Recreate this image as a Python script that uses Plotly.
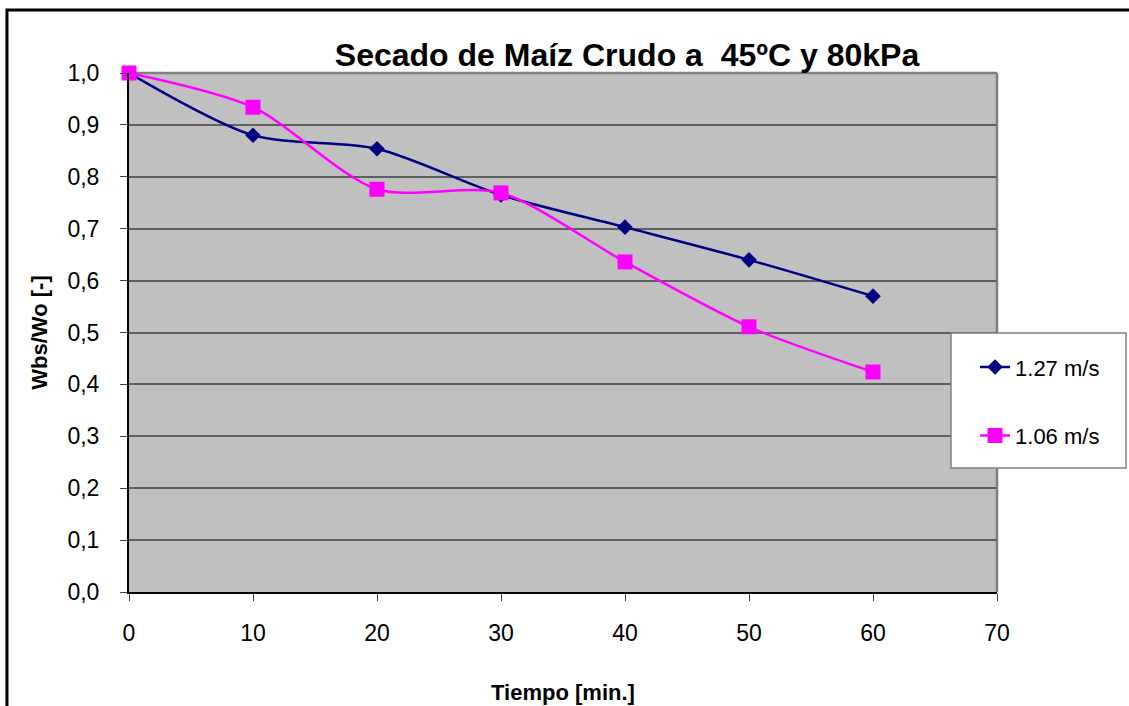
import plotly.graph_objects as go

tiempo = [0, 10, 20, 30, 40, 50, 60]
serie_127 = [1.0, 0.880, 0.854, 0.765, 0.703, 0.640, 0.570]
serie_106 = [1.0, 0.934, 0.776, 0.769, 0.636, 0.511, 0.424]
nombres = ["1.27 m/s", "1.06 m/s"]
titulo = "Secado de Maíz Crudo a  45ºC y 80kPa"
x_titulo = "Tiempo [min.]"
y_titulo = "Wbs/Wo [-]"

FONT = "Liberation Sans, Arial, sans-serif"

fig = go.Figure()
fig.add_trace(go.Scatter(
    x=tiempo, y=serie_127, name=nombres[0], mode="lines+markers",
    line=dict(color="#000080", width=2.5, shape="spline", smoothing=0.8),
    marker=dict(symbol="diamond", size=12, color="#000080"),
    legendgroup="a", cliponaxis=False))
fig.add_trace(go.Scatter(
    x=tiempo, y=serie_106, name=nombres[1], mode="lines+markers",
    line=dict(color="#FF00FF", width=2.5, shape="spline", smoothing=0.8),
    marker=dict(symbol="square", size=15, color="#FF00FF"),
    legendgroup="b", cliponaxis=False))

fig.update_layout(
    width=1129, height=706,
    margin=dict(l=129, r=132, t=73, b=114, autoexpand=False),
    paper_bgcolor="white", plot_bgcolor="#C0C0C0",
    separators=",.",
    font=dict(family=FONT, size=23, color="black"),
    title=dict(text="<b>" + titulo + "</b>", x=627 / 1129, xanchor="center",
               y=1 - 55 / 706, yanchor="middle", font=dict(size=32, family=FONT),
               automargin=False),
    showlegend=True,
    legend=dict(x=0.9747, y=0.4737, xanchor="left", yanchor="top",
                bgcolor="rgba(0,0,0,0)", borderwidth=0,
                font=dict(size=22, family=FONT), tracegroupgap=37,
                traceorder="grouped"),
    xaxis=dict(range=[0, 70], dtick=10, tick0=0, showgrid=False, zeroline=False,
               showline=True, linecolor="black", linewidth=2, automargin=False,
               ticks="outside", ticklen=7, tickcolor="#404040",
               ticklabelstandoff=12,
               title=dict(text="<b>" + x_titulo + "</b>", standoff=40, font=dict(size=22)),
               tickfont=dict(size=23)),
    yaxis=dict(range=[0, 1.0], dtick=0.1, tick0=0, tickformat=".1f",
               showgrid=True, gridcolor="#606060", gridwidth=1.5, zeroline=False,
               showline=True, linecolor="black", linewidth=2, automargin=False,
               ticks="outside", ticklen=7, tickcolor="#404040",
               ticklabelstandoff=16,
               title=dict(text="<b>" + y_titulo + "</b>", standoff=14, font=dict(size=22)),
               tickfont=dict(size=23)),
)

# gray top/right border of plot area
fig.add_shape(type="line", xref="paper", yref="paper", x0=0, x1=1, y0=1, y1=1,
              line=dict(color="#808080", width=2.5), layer="below")
fig.add_shape(type="line", xref="paper", yref="paper", x0=1, x1=1, y0=0, y1=1,
              line=dict(color="#808080", width=2.5), layer="below")
# legend box (covers the plot area where it overlaps)
fig.add_shape(type="rect", xref="paper", yref="paper",
              x0=(951 - 129) / 868, x1=(1126 - 129) / 868,
              y0=(592 - 468) / 519, y1=(592 - 333) / 519,
              fillcolor="white", line=dict(color="#808080", width=1.5), layer="above")
# outer chart border
fig.add_shape(type="rect", xref="paper", yref="paper",
              x0=-0.1406, x1=1.3, y0=-0.3, y1=1.1214,
              line=dict(color="black", width=3), layer="above")

fig.write_html("out.html")
